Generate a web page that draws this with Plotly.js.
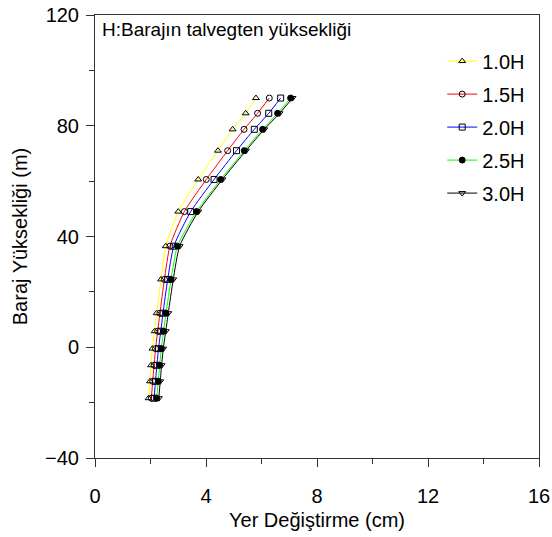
<!DOCTYPE html>
<html>
<head>
<meta charset="utf-8">
<script src="https://cdn.plot.ly/plotly-3.0.1.min.js"></script>
<style>html,body{margin:0;padding:0;background:#fff;}#chart{width:552px;height:537px;}</style>
</head>
<body>
<div id="chart"></div>
<script>
// Dam height levels (m)
var heights = [90, 84.5, 78.7, 71, 60.6, 49, 36.5, 24.5, 12.3, 5.8, -0.5, -6.5, -12.3, -18.4];
// Displacement (cm) for each series
var s10H = [5.80, 5.43, 4.96, 4.43, 3.72, 3.00, 2.55, 2.38, 2.22, 2.15, 2.07, 2.02, 1.98, 1.93];
var s15H = [6.28, 5.86, 5.37, 4.78, 4.01, 3.22, 2.70, 2.50, 2.34, 2.26, 2.18, 2.13, 2.08, 2.03];
var s20H = [6.69, 6.26, 5.74, 5.10, 4.29, 3.45, 2.84, 2.62, 2.45, 2.37, 2.29, 2.23, 2.18, 2.13];
var s25H = [7.05, 6.58, 6.04, 5.38, 4.53, 3.66, 2.97, 2.74, 2.56, 2.47, 2.39, 2.33, 2.28, 2.22];
var s30H = [7.12, 6.65, 6.10, 5.44, 4.59, 3.72, 3.05, 2.82, 2.64, 2.55, 2.46, 2.40, 2.35, 2.30];
var seriesNames = ["1.0H", "1.5H", "2.0H", "2.5H", "3.0H"];
var titleText = "H:Barajın talvegten yüksekliği";

var seriesData = [s10H, s15H, s20H, s25H, s30H];
var colors = ["#ffff00", "#ff0000", "#0000ff", "#00ff00", "#000000"];
var symbols = ["triangle-up-open", "circle-open", "square-open", "circle", "triangle-down-open"];
var FONT = "Liberation Sans, Arial, sans-serif";

var traces = seriesData.map(function (xs, i) {
  return {
    x: xs, y: heights, name: seriesNames[i], type: "scatter", mode: "lines+markers",
    legendgroup: "g" + i,
    line: {color: colors[i], width: 1, shape: "spline", smoothing: 0.6},
    marker: {symbol: symbols[i], size: 6, color: "#000000", line: {color: "#000000", width: 1}}
  };
});

var layout = {
  width: 552, height: 537,
  margin: {l: 95, r: 13, t: 15, b: 79},
  paper_bgcolor: "#ffffff", plot_bgcolor: "#ffffff",
  font: {family: FONT, size: 19, color: "#000000"},
  showlegend: true,
  legend: {x: 0.782, y: 0.94, xanchor: "left", yanchor: "top", bgcolor: "rgba(0,0,0,0)",
           font: {family: FONT, size: 20, color: "#000000"}, tracegroupgap: 4},
  xaxis: {
    range: [0, 16], tickmode: "linear", tick0: 0, dtick: 4,
    ticks: "outside", ticklen: 8, tickwidth: 1, tickcolor: "#333",
    minor: {dtick: 2, ticks: "outside", ticklen: 5, tickcolor: "#333"},
    showline: true, linecolor: "#333", linewidth: 1, mirror: true,
    showgrid: false, zeroline: false,
    ticklabelstandoff: 12,
    tickfont: {family: FONT, size: 20},
    title: {text: "Yer Değiştirme (cm)", font: {family: FONT, size: 20}, standoff: 6}
  },
  yaxis: {
    range: [-40, 120], tickmode: "linear", tick0: -40, dtick: 40,
    ticks: "outside", ticklen: 8, tickwidth: 1, tickcolor: "#333",
    minor: {dtick: 20, ticks: "outside", ticklen: 5, tickcolor: "#333"},
    showline: true, linecolor: "#333", linewidth: 1, mirror: true,
    showgrid: false, zeroline: false,
    ticklabelstandoff: 3,
    tickfont: {family: FONT, size: 20},
    title: {text: "Baraj Yüksekliği (m)", font: {family: FONT, size: 20}, standoff: 12}
  },
  annotations: [{
    text: titleText, xref: "paper", yref: "paper", x: 0.012, y: 0.995,
    xanchor: "left", yanchor: "top", showarrow: false,
    font: {family: FONT, size: 19, color: "#000000"}
  }]
};

Plotly.newPlot("chart", traces, layout, {displayModeBar: false, staticPlot: true});
</script>
</body>
</html>
